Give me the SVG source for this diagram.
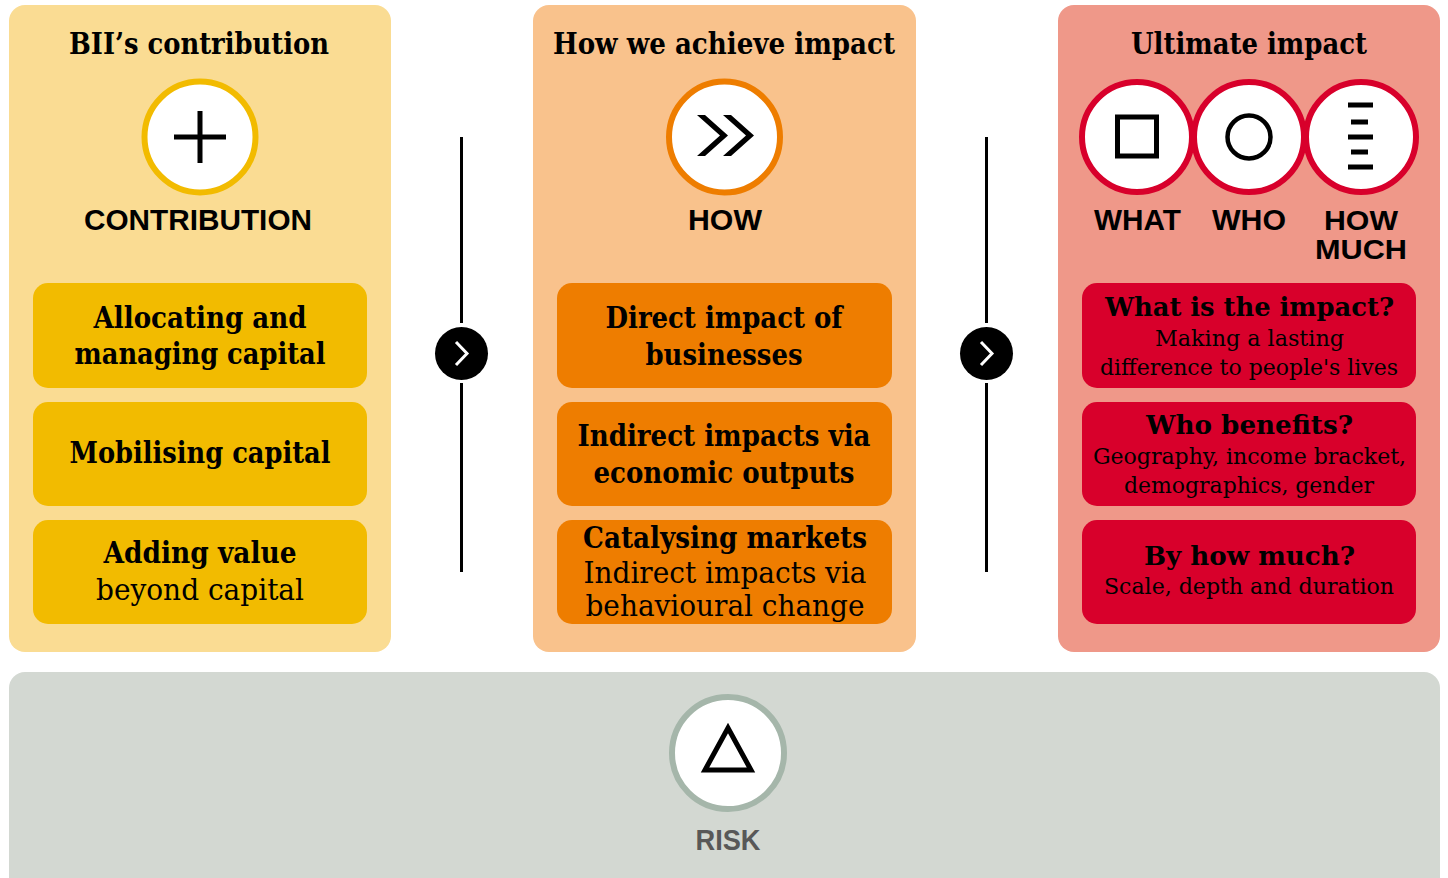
<svg xmlns="http://www.w3.org/2000/svg" width="1448" height="878" viewBox="0 0 1448 878">
<style>
text{text-anchor:middle;fill:#000}
.sf{font-family:"DejaVu Serif Condensed","DejaVu Serif",serif;font-stretch:condensed}
.hd{font-size:29px;font-weight:bold}
.bx{font-size:30px;font-weight:bold}
.bxr{font-size:30px;font-weight:normal}
.rb{font-size:26px;font-weight:bold}
.rr{font-size:23px;font-weight:normal}
.cap{font-family:"Liberation Sans",Arial,sans-serif;font-weight:bold;font-size:29px}
.cap2{font-family:"Liberation Sans",Arial,sans-serif;font-weight:bold;font-size:27px}
.ring{fill:#fff;stroke-width:6}
.ico{fill:none;stroke:#000;stroke-width:5}
.arr{fill:#000}
.chev{fill:none;stroke:#fff;stroke-width:3}
.vl{stroke:#000;stroke-width:3}
</style>
<rect width="1448" height="878" fill="#fff"/>

<g id="risk">
<rect x="9" y="672" width="1431" height="230" rx="16" fill="#D3D8D2"/>
<circle cx="728" cy="753" r="56" class="ring" stroke="#A5B6AA"/>
<path d="M728 728 L751 770 L705 770 Z" class="ico" stroke-linejoin="miter"/>
<text x="728" y="850" class="cap" style="fill:#585858" textLength="65" lengthAdjust="spacingAndGlyphs">RISK</text>
</g>

<g id="contribution">
<rect x="9" y="5" width="382" height="647" rx="16" fill="#FADC93"/>
<text x="199" y="54" class="sf hd" textLength="260" lengthAdjust="spacingAndGlyphs">BII’s contribution</text>
<circle cx="200" cy="137" r="55.5" class="ring" stroke="#F2BB00"/>
<path d="M200 111 V163 M174 137 H226" class="ico"/>
<text x="198" y="230" class="cap" textLength="228" lengthAdjust="spacingAndGlyphs">CONTRIBUTION</text>
</g>
<g id="allocating">
<rect x="33" y="283" width="334" height="105" rx="15" fill="#F2BB00"/>
<text x="200" y="328" class="sf bx" textLength="213" lengthAdjust="spacingAndGlyphs">Allocating and</text>
<text x="200" y="364" class="sf bx" textLength="251" lengthAdjust="spacingAndGlyphs">managing capital</text>
</g>
<g id="mobilising">
<rect x="33" y="402" width="334" height="104" rx="15" fill="#F2BB00"/>
<text x="200" y="463" class="sf bx" textLength="261" lengthAdjust="spacingAndGlyphs">Mobilising capital</text>
</g>
<g id="adding">
<rect x="33" y="520" width="334" height="104" rx="15" fill="#F2BB00"/>
<text x="200" y="563" class="sf bx" textLength="193" lengthAdjust="spacingAndGlyphs">Adding value</text>
<text x="200" y="600" class="sf bxr" textLength="208" lengthAdjust="spacingAndGlyphs">beyond capital</text>
</g>

<g id="how">
<rect x="533" y="5" width="383" height="647" rx="16" fill="#F9C28C"/>
<text x="724" y="54" class="sf hd" textLength="342" lengthAdjust="spacingAndGlyphs">How we achieve impact</text>
<circle cx="724.5" cy="137" r="55.5" class="ring" stroke="#EE7D00"/>
<path d="M697 115 H705 L728 135.5 L705 156 H697 L720 135.5 Z M723 115 H731 L754 135.5 L731 156 H723 L746 135.5 Z" fill="#000"/>
<text x="725" y="230" class="cap" textLength="74" lengthAdjust="spacingAndGlyphs">HOW</text>
</g>
<g id="direct">
<rect x="557" y="283" width="335" height="105" rx="15" fill="#EE7D00"/>
<text x="724" y="328" class="sf bx" textLength="237" lengthAdjust="spacingAndGlyphs">Direct impact of</text>
<text x="724" y="365" class="sf bx" textLength="157" lengthAdjust="spacingAndGlyphs">businesses</text>
</g>
<g id="indirect">
<rect x="557" y="402" width="335" height="104" rx="15" fill="#EE7D00"/>
<text x="724" y="446" class="sf bx" textLength="293" lengthAdjust="spacingAndGlyphs">Indirect impacts via</text>
<text x="724" y="483" class="sf bx" textLength="261" lengthAdjust="spacingAndGlyphs">economic outputs</text>
</g>
<g id="catalysing">
<rect x="557" y="520" width="335" height="104" rx="15" fill="#EE7D00"/>
<text x="725" y="548" class="sf bx" textLength="284" lengthAdjust="spacingAndGlyphs">Catalysing markets</text>
<text x="725" y="583" class="sf bxr" textLength="283" lengthAdjust="spacingAndGlyphs">Indirect impacts via</text>
<text x="725" y="616" class="sf bxr" textLength="279" lengthAdjust="spacingAndGlyphs">behavioural change</text>
</g>

<g id="ultimate">
<rect x="1058" y="5" width="382" height="647" rx="16" fill="#EF9889"/>
<text x="1249" y="54" class="sf hd" textLength="236" lengthAdjust="spacingAndGlyphs">Ultimate impact</text>
<circle cx="1137" cy="137" r="55" class="ring" stroke="#D8002B"/>
<circle cx="1249" cy="137" r="55" class="ring" stroke="#D8002B"/>
<circle cx="1361" cy="137" r="55" class="ring" stroke="#D8002B"/>
<rect x="1117.5" y="117" width="39" height="39" class="ico"/>
<circle cx="1249" cy="137" r="21.5" fill="none" stroke="#000" stroke-width="4.5"/>
<path d="M1348 105 H1373 M1351 122 H1368 M1348 137 H1373 M1351 152 H1368 M1348 167 H1373" fill="none" stroke="#000" stroke-width="5"/>
<text x="1137.5" y="230" class="cap" textLength="87" lengthAdjust="spacingAndGlyphs">WHAT</text>
<text x="1249" y="230" class="cap" textLength="74" lengthAdjust="spacingAndGlyphs">WHO</text>
<text x="1361" y="230" class="cap2" textLength="74" lengthAdjust="spacingAndGlyphs">HOW</text>
<text x="1361" y="259" class="cap2" textLength="92" lengthAdjust="spacingAndGlyphs">MUCH</text>
</g>
<g id="what">
<rect x="1082" y="283" width="334" height="105" rx="15" fill="#D8002B"/>
<text x="1249.5" y="316" class="sf rb" textLength="289" lengthAdjust="spacingAndGlyphs">What is the impact?</text>
<text x="1249.5" y="346" class="sf rr" textLength="189" lengthAdjust="spacingAndGlyphs">Making a lasting</text>
<text x="1249" y="375" class="sf rr" textLength="298" lengthAdjust="spacingAndGlyphs">difference to people's lives</text>
</g>
<g id="who">
<rect x="1082" y="402" width="334" height="104" rx="15" fill="#D8002B"/>
<text x="1249.5" y="434" class="sf rb" textLength="207" lengthAdjust="spacingAndGlyphs">Who benefits?</text>
<text x="1249.5" y="464" class="sf rr" textLength="313" lengthAdjust="spacingAndGlyphs">Geography, income bracket,</text>
<text x="1249" y="493" class="sf rr" textLength="250" lengthAdjust="spacingAndGlyphs">demographics, gender</text>
</g>
<g id="byhowmuch">
<rect x="1082" y="520" width="334" height="104" rx="15" fill="#D8002B"/>
<text x="1249.5" y="565" class="sf rb" textLength="211" lengthAdjust="spacingAndGlyphs">By how much?</text>
<text x="1249" y="594" class="sf rr" textLength="290" lengthAdjust="spacingAndGlyphs">Scale, depth and duration</text>
</g>

<g id="connectors">
<path d="M461.5 137 V323 M461.5 383 V572" class="vl"/>
<circle cx="461.5" cy="353.5" r="26.5" class="arr"/>
<path d="M456 342 L467 353.5 L456 365" class="chev"/>
<path d="M986.5 137 V323 M986.5 383 V572" class="vl"/>
<circle cx="986.5" cy="353.5" r="26.5" class="arr"/>
<path d="M981 342 L992 353.5 L981 365" class="chev"/>
</g>
</svg>
